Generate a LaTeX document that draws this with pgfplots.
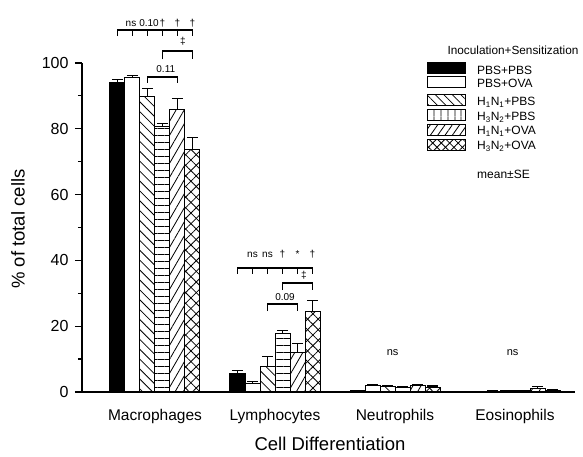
\documentclass[border=0pt]{standalone}
\usepackage{pgfplots}
\pgfplotsset{compat=1.18}
\usepackage{pgfplotstable}
\usepackage{fontspec}
\setmainfont{Liberation Sans}
\usetikzlibrary{patterns.meta}
\tikzset{
  ann/.style={line width=1.4pt, black},
  lab/.style={font=\fontsize{10}{10}\selectfont, inner sep=0pt},
  legtxt/.style={font=\fontsize{12}{12}\selectfont, anchor=base west, inner sep=0pt},
  legbox/.style={draw=black, line width=1pt},
}

% x y err  (0 Macrophages, 1 Lymphocytes, 2 Neutrophils, 3 Eosinophils)
\pgfplotstableread{
x y e
0 94.2 0.7
1 5.6 0.9
2 0.4 0.1
3 0.1 0.05
}\tA
\pgfplotstableread{
x y e
0 95.6 0.6
1 2.7 0.6
2 1.9 0.3
3 0.3 0.1
}\tB
\pgfplotstableread{
x y e
0 89.8 2.5
1 7.7 3.2
2 1.6 0.3
3 0.4 0.1
}\tC
\pgfplotstableread{
x y e
0 80.7 0.9
1 17.8 0.8
2 1.3 0.3
3 0.4 0.1
}\tD
\pgfplotstableread{
x y e
0 85.9 3.4
1 12.0 2.8
2 1.9 0.4
3 1.0 0.7
}\tE
\pgfplotstableread{
x y e
0 73.7 3.7
1 24.4 3.4
2 1.5 0.3
3 0.6 0.1
}\tF

\begin{document}
\begin{tikzpicture}
\useasboundingbox (-82pt,-65pt) rectangle (501pt,392pt);
\begin{axis}[
  at={(0pt,0pt)}, anchor=south west,
  scale only axis, width=493pt, height=329pt,
  ybar=0pt, bar width=15pt,
  xmin=-0.6083, xmax=3.5, ymin=0, ymax=100,
  clip=false,
  axis lines*=left,
  axis line style={line width=1.3pt},
  xtick={0,1,2,3},
  xticklabels={Macrophages,Lymphocytes,Neutrophils,Eosinophils},
  x tick style={draw=none},
  ytick={0,20,...,100}, minor ytick={10,30,...,90},
  y tick style={line width=1.2pt, black},
  tick align=outside,
  major tick length=7pt, minor tick length=4pt,
  /pgf/number format/assume math mode=true,
  yticklabel style={font=\fontsize{16}{16}\selectfont, xshift=-3pt},
  xticklabel style={font=\fontsize{15.5}{15.5}\selectfont, anchor=base, yshift=-21.5pt},
  xlabel={Cell Differentiation},
  ylabel={\% of total cells},
  xlabel style={font=\fontsize{18.5}{18.5}\selectfont, at={(axis description cs:0.503,-0.158)}, anchor=center},
  ylabel style={font=\fontsize{18.5}{18.5}\selectfont, at={(axis description cs:-0.13,0.495)}, anchor=center},
  error bars/error bar style={line width=1.2pt, black},
  error bars/error mark options={rotate=90, line width=1.2pt, mark size=5.5pt, black},
]
\addplot[forget plot, bar shift=-37.5pt, draw=black, line width=1pt, fill=black,
  error bars/.cd, y dir=plus, y explicit] table[x=x, y=y, y error=e]{\tA};
\addplot[forget plot, bar shift=-22.5pt, draw=black, line width=1pt, fill=white,
  error bars/.cd, y dir=plus, y explicit] table[x=x, y=y, y error=e]{\tB};
\addplot[forget plot, bar shift=-7.5pt, draw=black, line width=1pt,
  pattern={Lines[angle=-45, distance=7pt, line width=0.8pt]},
  error bars/.cd, y dir=plus, y explicit] table[x=x, y=y, y error=e]{\tC};
\addplot[forget plot, bar shift=7.5pt, draw=black, line width=1pt,
  pattern={Lines[angle=0, distance=7pt, line width=0.7pt]},
  error bars/.cd, y dir=plus, y explicit] table[x=x, y=y, y error=e]{\tD};
\addplot[forget plot, bar shift=22.5pt, draw=black, line width=1pt,
  pattern={Lines[angle=60, distance=7pt, line width=0.8pt]},
  error bars/.cd, y dir=plus, y explicit] table[x=x, y=y, y error=e]{\tE};
\addplot[forget plot, bar shift=37.5pt, draw=black, line width=1pt,
  pattern={Lines[angle=45, distance=7.5pt, line width=0.8pt]},
  postaction={pattern={Lines[angle=-45, distance=7.5pt, line width=0.8pt]}},
  error bars/.cd, y dir=plus, y explicit] table[x=x, y=y, y error=e]{\tF};

% Macrophages annotations
\draw[ann] (axis cs:-0.3125,108.2) -- (axis cs:-0.3125,110) -- (axis cs:0.3125,110) -- (axis cs:0.3125,108.2);
\draw[ann] (axis cs:-0.1875,110) -- (axis cs:-0.1875,108.2);
\draw[ann] (axis cs:-0.0625,110) -- (axis cs:-0.0625,108.2);
\draw[ann] (axis cs:0.0625,110) -- (axis cs:0.0625,108.2);
\draw[ann] (axis cs:0.1875,110) -- (axis cs:0.1875,108.2);
\node[lab, anchor=base] at (axis cs:-0.2,111.0) {ns};
\node[lab, anchor=base] at (axis cs:-0.05,111.0) {0.10};
\node[lab, anchor=base] at (axis cs:0.0625,111.0) {\textdagger};
\node[lab, anchor=base] at (axis cs:0.1875,111.0) {\textdagger};
\node[lab, anchor=base] at (axis cs:0.3125,111.0) {\textdagger};
\node[lab, anchor=center] at (axis cs:0.233,106.5) {\textdaggerdbl};
\draw[ann] (axis cs:0.0625,101.1) -- (axis cs:0.0625,103.6) -- (axis cs:0.3125,103.6) -- (axis cs:0.3125,101.1);
\node[lab, anchor=center] at (axis cs:0.09,98.2) {0.11};
\draw[ann] (axis cs:-0.0625,94.0) -- (axis cs:-0.0625,95.8) -- (axis cs:0.1875,95.8) -- (axis cs:0.1875,94.0);

% Lymphocytes annotations
\draw[ann] (axis cs:0.6875,35.9) -- (axis cs:0.6875,37.7) -- (axis cs:1.3125,37.7) -- (axis cs:1.3125,35.9);
\draw[ann] (axis cs:0.8125,37.7) -- (axis cs:0.8125,35.9);
\draw[ann] (axis cs:0.9375,37.7) -- (axis cs:0.9375,35.9);
\draw[ann] (axis cs:1.0625,37.7) -- (axis cs:1.0625,35.9);
\draw[ann] (axis cs:1.1875,37.7) -- (axis cs:1.1875,35.9);
\node[lab, anchor=base] at (axis cs:0.8125,40.9) {ns};
\node[lab, anchor=base] at (axis cs:0.9375,40.9) {ns};
\node[lab, anchor=base] at (axis cs:1.0625,40.9) {\textdagger};
\node[lab, anchor=base] at (axis cs:1.1875,40.9) {*};
\node[lab, anchor=base] at (axis cs:1.3125,40.9) {\textdagger};
\node[lab, anchor=center] at (axis cs:1.2417,35.6) {\textdaggerdbl};
\draw[ann] (axis cs:1.0625,31.0) -- (axis cs:1.0625,33.1) -- (axis cs:1.3125,33.1) -- (axis cs:1.3125,31.0);
\node[lab, anchor=center] at (axis cs:1.0833,28.8) {0.09};
\draw[ann] (axis cs:0.9375,24.6) -- (axis cs:0.9375,26.7) -- (axis cs:1.1875,26.7) -- (axis cs:1.1875,24.6);

% Neutrophils / Eosinophils
\node[lab, font=\fontsize{11}{11}\selectfont, anchor=center] at (axis cs:1.98,11.9) {ns};
\node[lab, font=\fontsize{11}{11}\selectfont, anchor=center] at (axis cs:2.98,11.9) {ns};
\end{axis}

% legend (picture units: 1pt = 1px of the reference, origin at the axis's lower-left corner)
\node[font=\fontsize{11.8}{11.8}\selectfont, anchor=center, inner sep=0pt] at (431pt,342pt) {Inoculation+Sensitization};
\draw[legbox, fill=black] (345pt,318.5pt) rectangle (383pt,329.5pt);
\node[legtxt] at (395pt,317pt) {PBS+PBS};
\draw[legbox, fill=white] (345pt,304.5pt) rectangle (383pt,315.5pt);
\node[legtxt] at (395pt,304.4pt) {PBS+OVA};
\draw[legbox, pattern={Lines[angle=-45, distance=6pt, line width=0.8pt]}] (345pt,286.5pt) rectangle (383pt,297.5pt);
\node[legtxt] at (395pt,286.7pt) {H\textsubscript{1}N\textsubscript{1}+PBS};
\draw[legbox, pattern={Lines[angle=90, distance=6.5pt, line width=0.8pt]}] (345pt,271.5pt) rectangle (383pt,282.5pt);
\node[legtxt] at (395pt,271.7pt) {H\textsubscript{3}N\textsubscript{2}+PBS};
\draw[legbox, pattern={Lines[angle=55, distance=6pt, line width=0.8pt]}] (345pt,256.5pt) rectangle (383pt,267.5pt);
\node[legtxt] at (395pt,257pt) {H\textsubscript{1}N\textsubscript{1}+OVA};
\draw[legbox, pattern={Lines[angle=45, distance=6pt, line width=0.8pt]}, postaction={pattern={Lines[angle=-45, distance=6pt, line width=0.8pt]}}] (345pt,241.5pt) rectangle (383pt,252.5pt);
\node[legtxt] at (395pt,242pt) {H\textsubscript{3}N\textsubscript{2}+OVA};
\node[font=\fontsize{12}{12}\selectfont, anchor=west, inner sep=0pt] at (395pt,218pt) {mean±SE};
\end{tikzpicture}
\end{document}
